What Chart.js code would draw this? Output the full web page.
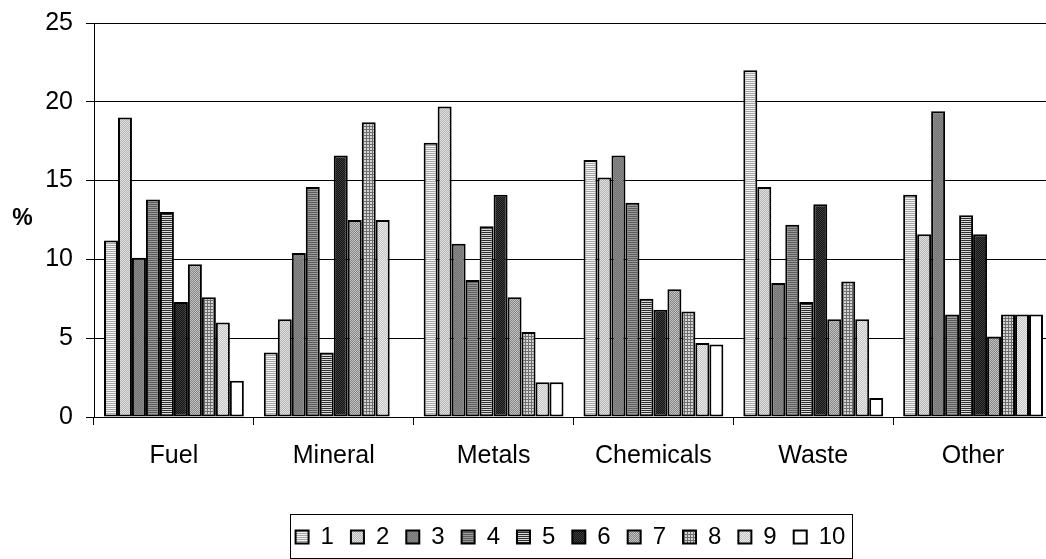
<!DOCTYPE html>
<html>
<head>
<meta charset="utf-8">
<script src="https://cdn.jsdelivr.net/npm/chart.js@4/dist/chart.umd.min.js"></script>
<style>
  html, body { margin: 0; padding: 0; background: #fff; overflow: hidden; }
  #wrap { width: 1054px; height: 559px; }
</style>
</head>
<body>
<div id="wrap"><canvas id="c" width="1054" height="559"></canvas></div>
<script>
// Categories along the x axis
const categories = ['Fuel', 'Mineral', 'Metals', 'Chemicals', 'Waste', 'Other'];
// Series names shown in the legend
const seriesLabels = ['1', '2', '3', '4', '5', '6', '7', '8', '9', '10'];
// Share (%) per series, in category order
const s1  = [11.2,  4.1, 17.4, 16.3, 22.0, 14.1];
const s2  = [19.0,  6.2, 19.7, 15.2, 14.6, 11.6];
const s3  = [10.1, 10.4, 11.0, 16.6,  8.5, 19.4];
const s4  = [13.8, 14.6,  8.7, 13.6, 12.2,  6.5];
const s5  = [13.0,  4.1, 12.1,  7.5,  7.3, 12.8];
const s6  = [ 7.3, 16.6, 14.1,  6.8, 13.5, 11.6];
const s7  = [ 9.7, 12.5,  7.6,  8.1,  6.2,  5.1];
const s8  = [ 7.6, 18.7,  5.4,  6.7,  8.6,  6.5];
const s9  = [ 6.0, 12.5,  2.2,  4.7,  6.2,  6.5];
const s10 = [ 2.3,  0.0,  2.2,  4.6,  1.2,  6.5];
const seriesValues = [s1, s2, s3, s4, s5, s6, s7, s8, s9, s10];
// Y axis range
const yMin = 0, yMax = 25, yStep = 5;

const FONT = '"Liberation Sans", Arial, sans-serif';

// Small tiled fills in grey tones
function tile(w, h, cells) {
  const cv = document.createElement('canvas');
  cv.width = w; cv.height = h;
  const g = cv.getContext('2d');
  for (let y = 0; y < h; y++) {
    for (let x = 0; x < w; x++) {
      g.fillStyle = cells(x, y);
      g.fillRect(x, y, 1, 1);
    }
  }
  return g.createPattern(cv, 'repeat');
}
const fills = [
  tile(1, 2, (x, y) => y === 0 ? '#f2f2f2' : '#a6a6a6'),            // light horizontal lines
  tile(2, 2, (x, y) => (x + y) % 2 ? '#b4b4b4' : '#e2e2e2'),         // light fine dots
  tile(2, 2, (x, y) => (x + y) % 2 ? '#747474' : '#8a8a8a'),         // medium grey
  tile(1, 2, (x, y) => y === 0 ? '#5c5c5c' : '#9a9a9a'),            // medium horizontal lines
  tile(1, 2, (x, y) => y === 0 ? '#2e2e2e' : '#dadada'),            // dark/light stripes
  tile(2, 2, (x, y) => (x + y) % 2 ? '#161616' : '#3c3c3c'),         // near black
  tile(2, 2, (x, y) => (x + y) % 2 ? '#848484' : '#c4c4c4'),         // medium checker
  tile(3, 3, (x, y) => (x === 0 || y === 0) ? '#6e6e6e' : '#d6d6d6'), // grid
  tile(2, 2, (x, y) => (x + y) % 2 ? '#c2c2c2' : '#ececec'),         // pale dots
  '#ffffff'                                                          // white
];

const datasets = seriesValues.map((vals, i) => ({
  label: seriesLabels[i],
  data: vals,
  backgroundColor: fills[i],
  borderColor: '#000',
  borderWidth: 2,
  borderSkipped: false,
  categoryPercentage: 0.875,
  barPercentage: 1.0
}));

// The legend row sits a little right of the canvas centre
const LEGEND_SHIFT = 44;

// Shift the legend, then add the "%" caption and the frame round the legend
const extras = {
  id: 'extras',
  afterUpdate(chart) {
    const lg = chart.legend;
    lg.left += LEGEND_SHIFT;
    lg.right += LEGEND_SHIFT;
    (lg.legendHitBoxes || []).forEach(h => { h.left += LEGEND_SHIFT; });
  },
  afterDraw(chart) {
    const ctx = chart.ctx;
    ctx.save();
    ctx.fillStyle = '#000';
    ctx.font = 'bold 23px ' + FONT;
    ctx.textAlign = 'center';
    ctx.textBaseline = 'middle';
    ctx.fillText('%', 22.5, 219);
    const boxes = chart.legend.legendHitBoxes;
    if (boxes && boxes.length) {
      let l = Infinity, r = -Infinity, t = Infinity, b = -Infinity;
      boxes.forEach(h => {
        l = Math.min(l, h.left); r = Math.max(r, h.left + h.width);
        t = Math.min(t, h.top); b = Math.max(b, h.top + h.height);
      });
      const cy = (t + b) / 2;
      ctx.strokeStyle = '#000';
      ctx.lineWidth = 1;
      ctx.strokeRect(Math.round(l - 6) + 0.5, Math.round(cy - 23) + 0.5,
                     Math.round(r - l + 12), 44);
    }
    ctx.restore();
  }
};

new Chart(document.getElementById('c'), {
  type: 'bar',
  data: { labels: categories, datasets },
  plugins: [extras],
  options: {
    responsive: false,
    animation: false,
    devicePixelRatio: 1,
    layout: { padding: { top: 23, right: 1, left: 0, bottom: 0 } },
    plugins: {
      legend: {
        position: 'bottom',
        labels: {
          color: '#000',
          font: { family: FONT, size: 24 },
          boxWidth: 13,
          boxHeight: 13,
          padding: 17
        }
      },
      tooltip: { enabled: false }
    },
    scales: {
      x: {
        grid: { offset: true, drawOnChartArea: false, tickLength: 8, color: '#000' },
        border: { color: '#000', width: 1 },
        ticks: { color: '#000', font: { family: FONT, size: 25 }, padding: 16, maxRotation: 0 },
        afterFit(s) { s.height = 91; }
      },
      y: {
        min: yMin,
        max: yMax,
        ticks: { stepSize: yStep, color: '#000', font: { family: FONT, size: 25 }, padding: 13 },
        grid: { color: '#000', tickLength: 8 },
        border: { color: '#000', width: 1 },
        afterFit(s) { s.width = 94; s.paddingTop = 0; s.paddingBottom = 0; }
      }
    }
  }
});
</script>
</body>
</html>
